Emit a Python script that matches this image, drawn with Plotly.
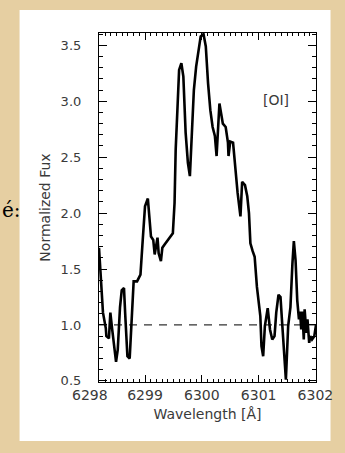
import plotly.graph_objects as go

wavelength = [6298.19, 6298.23, 6298.26, 6298.31, 6298.32, 6298.365, 6298.39, 6298.42, 6298.46, 6298.49,
              6298.52, 6298.56, 6298.59, 6298.63, 6298.65, 6298.69, 6298.73, 6298.76, 6298.80, 6298.86,
              6298.92, 6298.96, 6299.00, 6299.05, 6299.07, 6299.105, 6299.145, 6299.17, 6299.22, 6299.24,
              6299.28, 6299.305, 6299.345, 6299.40, 6299.45, 6299.49, 6299.52, 6299.54, 6299.57, 6299.60,
              6299.64, 6299.675, 6299.715, 6299.755, 6299.79, 6299.82, 6299.86, 6299.90, 6299.94, 6299.98,
              6300.03, 6300.07, 6300.11, 6300.15, 6300.19, 6300.23, 6300.26, 6300.285, 6300.31, 6300.34,
              6300.37, 6300.42, 6300.46, 6300.47, 6300.50, 6300.55, 6300.59, 6300.63, 6300.68, 6300.71,
              6300.76, 6300.80, 6300.83, 6300.855, 6300.895, 6300.93, 6300.97, 6301.03, 6301.05, 6301.08,
              6301.11, 6301.16, 6301.20, 6301.24, 6301.28, 6301.31, 6301.35, 6301.385, 6301.41, 6301.45,
              6301.48, 6301.52, 6301.56, 6301.595, 6301.62, 6301.65, 6301.68, 6301.71, 6301.73, 6301.75,
              6301.77, 6301.795, 6301.81, 6301.84, 6301.86, 6301.89, 6301.91, 6301.94, 6301.98, 6302.01]
flux = [1.69, 1.31, 1.11, 0.97, 0.90, 0.88, 1.11, 0.97, 0.78, 0.67,
        0.78, 1.16, 1.31, 1.33, 1.11, 0.72, 0.70, 0.99, 1.39, 1.39,
        1.45, 1.76, 2.06, 2.13, 2.00, 1.79, 1.76, 1.63, 1.78, 1.64,
        1.57, 1.69, 1.72, 1.76, 1.79, 1.82, 2.09, 2.57, 2.92, 3.28,
        3.34, 3.22, 2.72, 2.45, 2.33, 2.66, 3.10, 3.31, 3.43, 3.58,
        3.60, 3.49, 3.16, 2.92, 2.77, 2.69, 2.51, 2.77, 2.98, 2.89,
        2.80, 2.77, 2.63, 2.51, 2.64, 2.63, 2.36, 2.18, 1.97, 2.28,
        2.25, 2.15, 2.00, 1.73, 1.66, 1.61, 1.34, 1.08, 0.81, 0.72,
        0.99, 1.15, 0.96, 0.87, 0.90, 1.11, 1.27, 1.25, 1.05, 0.78,
        0.51, 0.99, 1.16, 1.55, 1.75, 1.58, 1.22, 1.05, 1.12, 0.96,
        1.12, 0.87, 1.14, 0.93, 1.05, 0.84, 0.90, 0.87, 0.90, 1.00]

continuum_level = 1.0
x_tick_values = [6299, 6300, 6301, 6302]
x_tick_labels = ["6299", "6300", "6301", "6302"]
first_x_label = "6298"
y_tick_values = [0.5, 1.0, 1.5, 2.0, 2.5, 3.0, 3.5]
y_tick_labels = ["0.5", "1.0", "1.5", "2.0", "2.5", "3.0", "3.5"]
x_range = [6298.19, 6302.01]
y_range = [0.49, 3.61]

TXT = "#3a3a3a"
FONT = "DejaVu Sans"
XL = 14

fig = go.Figure()
fig.add_trace(go.Scatter(x=[x_range[0], x_range[1]], y=[continuum_level, continuum_level],
                         mode="lines", line=dict(color="#333333", width=1.3, dash="8px,7px"),
                         hoverinfo="skip", showlegend=False))
fig.add_trace(go.Scatter(x=wavelength, y=flux, mode="lines",
                         line=dict(color="black", width=2.6), showlegend=False, cliponaxis=True))

fig.update_layout(
    width=345, height=453,
    margin=dict(l=99, r=22, t=33, b=71),
    paper_bgcolor="#E6CFA2",
    plot_bgcolor="white",
    showlegend=False,
    font=dict(family=FONT, color=TXT, size=12),
)
fig.update_xaxes(
    range=x_range, tickmode="array", tickvals=x_tick_values, ticktext=x_tick_labels,
    ticks="inside", ticklen=7, tickwidth=1, tickcolor="black",
    showline=True, linecolor="black", linewidth=1.2, mirror="allticks",
    showgrid=False, zeroline=False,
    tickfont=dict(family=FONT, size=XL, color=TXT),
    minor=dict(dtick=0.1, tick0=6298, ticks="inside", ticklen=3, tickcolor="black", showgrid=False),
    title=dict(text="Wavelength [Å]", font=dict(family=FONT, size=14, color=TXT), standoff=7),
)
fig.update_yaxes(
    range=y_range, tickmode="array", tickvals=y_tick_values, ticktext=y_tick_labels,
    ticks="inside", ticklen=8, tickwidth=1, tickcolor="black",
    showline=True, linecolor="black", linewidth=1.2, mirror="allticks",
    showgrid=False, zeroline=False,
    tickfont=dict(family=FONT, size=13, color=TXT),
    ticklabelstandoff=14,
    minor=dict(dtick=0.1, tick0=0.5, ticks="inside", ticklen=4, tickcolor="black", showgrid=False),
    title=dict(text="Normalized Fux", font=dict(family=FONT, size=14, color=TXT), standoff=6),
)

# white panel behind the figure
fig.add_shape(type="rect", xref="paper", yref="paper", layer="below",
              x0=(17 - 99) / 224, x1=(338 - 99) / 224,
              y0=(382 - 441) / 349, y1=(382 - 10) / 349,
              fillcolor="white", line=dict(width=0))

fig.add_annotation(x=(90 - 99) / 224, y=0, xref="paper", yref="paper",
                   xanchor="center", yanchor="top", yshift=-3,
                   text=first_x_label, showarrow=False, font=dict(family=FONT, size=XL, color=TXT))
fig.add_annotation(x=(282 - 99) / 224, y=(382 - 100) / 349, xref="paper", yref="paper",
                   xanchor="center", yanchor="middle",
                   text="[OI]", showarrow=False, font=dict(family=FONT, size=14, color=TXT))
fig.add_annotation(x=(0 - 99) / 224, y=(382 - 210) / 349, xref="paper", yref="paper",
                   xanchor="left", yanchor="middle", xshift=-3, text="é:", showarrow=False,
                   font=dict(family="DejaVu Serif", size=20, color="black"))

fig.write_html("out.html")
